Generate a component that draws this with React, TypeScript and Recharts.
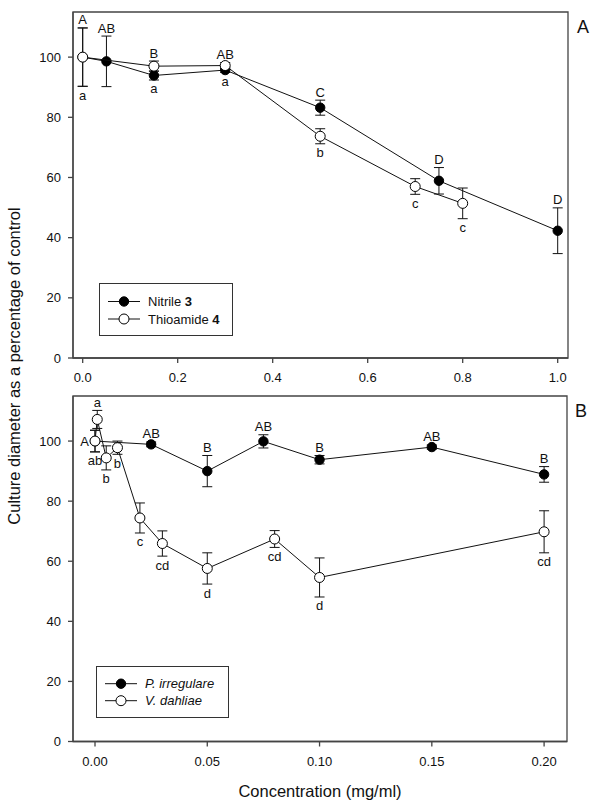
import React from 'react';
import { ComposedChart, Scatter, XAxis, YAxis, ErrorBar, ReferenceArea, Legend } from 'recharts';

const FONT = '"Liberation Sans", Arial, sans-serif';

// Panel A - concentration (mg/ml), % of control, SE, letters
const NITRILE_X = [0, 0.05, 0.15, 0.3, 0.5, 0.75, 1.0];
const NITRILE_Y = [100, 98.6, 93.9, 95.7, 83.2, 58.9, 42.3];
const NITRILE_ERR = [9.7, 8.4, 1.5, 0.8, 2.5, 4.4, 7.6];
const NITRILE_LETTERS = ['A', 'AB', 'B', 'AB', 'C', 'D', 'D'];

const THIO_X = [0, 0.15, 0.3, 0.5, 0.7, 0.8];
const THIO_Y = [100, 97.0, 97.2, 73.7, 57.0, 51.4];
const THIO_ERR = [9.7, 1.7, 1.0, 2.5, 2.6, 5.1];
const THIO_LETTERS = ['a', 'a', 'a', 'b', 'c', 'c'];

// Panel B
const PIRR_X = [0, 0.025, 0.05, 0.075, 0.1, 0.15, 0.2];
const PIRR_Y = [100, 98.9, 90.0, 99.9, 93.8, 98.0, 88.9];
const PIRR_ERR = [3.6, 0.8, 5.2, 2.2, 1.4, 0.7, 2.6];
const PIRR_LETTERS = ['A', 'AB', 'B', 'AB', 'B', 'AB', 'B'];

const VDAH_X = [0, 0.001, 0.005, 0.01, 0.02, 0.03, 0.05, 0.08, 0.1, 0.2];
const VDAH_Y = [100, 107.2, 94.4, 97.8, 74.4, 65.9, 57.6, 67.4, 54.6, 69.8];
const VDAH_ERR = [3.6, 3.0, 4.0, 2.2, 5.0, 4.2, 5.2, 2.8, 6.5, 7.0];
const VDAH_LETTERS = ['ab', 'a', 'b', 'b', 'c', 'cd', 'd', 'cd', 'd', 'cd'];

const Y_TICKS = [0, 20, 40, 60, 80, 100];
const X_TICKS_A = [0, 0.2, 0.4, 0.6, 0.8, 1.0];
const X_TICKS_B = [0, 0.05, 0.1, 0.15, 0.2];

// where each letter goes relative to its point
const NITRILE_SIDE = ['above', 'above', 'above', 'above', 'above', 'above', 'above'];
const THIO_SIDE = ['below', 'below', 'below', 'below', 'below', 'below'];
const PIRR_SIDE = ['left', 'above', 'above', 'above', 'above', 'above', 'above'];
const VDAH_SIDE = ['below', 'above', 'below', 'below', 'below', 'below', 'below', 'below', 'below', 'below'];

type Pt = { x: number; y: number; err: number };
type Lab = { x: number; y: number; text: string; side: string };

const toPoints = (xs: number[], ys: number[], errs: number[]): Pt[] =>
  xs.map((x, i) => ({ x, y: ys[i], err: errs[i] }));

// letters sit past the outermost error bar at that concentration
function toLabels(own: Pt[], texts: string[], sides: string[], all: Pt[]): Lab[] {
  return own.map((p, i) => {
    const side = sides[i];
    const same = all.filter((q) => q.x === p.x);
    let y = p.y;
    if (side === 'above') y = Math.max(...same.map((q) => q.y + q.err));
    if (side === 'below') y = Math.min(...same.map((q) => q.y - q.err));
    return { x: p.x, y, text: texts[i], side };
  });
}

const nitrile = toPoints(NITRILE_X, NITRILE_Y, NITRILE_ERR);
const thio = toPoints(THIO_X, THIO_Y, THIO_ERR);
const pirr = toPoints(PIRR_X, PIRR_Y, PIRR_ERR);
const vdah = toPoints(VDAH_X, VDAH_Y, VDAH_ERR);

const labelsA = [
  ...toLabels(nitrile, NITRILE_LETTERS, NITRILE_SIDE, [...nitrile, ...thio]),
  ...toLabels(thio, THIO_LETTERS, THIO_SIDE, [...nitrile, ...thio]),
];
const labelsB = [
  ...toLabels(pirr, PIRR_LETTERS, PIRR_SIDE, [...pirr, ...vdah]),
  ...toLabels(vdah, VDAH_LETTERS, VDAH_SIDE, [...pirr, ...vdah]),
];

const FilledDot = (p: any) => <circle cx={p.cx} cy={p.cy} r={4.7} fill="#000" stroke="#000" strokeWidth={1} />;
const OpenDot = (p: any) => <circle cx={p.cx} cy={p.cy} r={5} fill="#fff" stroke="#000" strokeWidth={1} />;

const Letter = (p: any) => {
  const { cx, cy, payload } = p;
  const common = { fontSize: 13, fill: '#111', fontFamily: FONT };
  if (payload.side === 'above')
    return <text x={cx} y={cy - 3.5} textAnchor="middle" {...common}>{payload.text}</text>;
  if (payload.side === 'below')
    return <text x={cx} y={cy + 13.5} textAnchor="middle" {...common}>{payload.text}</text>;
  return <text x={cx - 6} y={cy + 4.5} textAnchor="end" {...common}>{payload.text}</text>;
};

function LegendBox({ w, h, rows }: { w: number; h: number; rows: { filled: boolean; label: React.ReactNode; cy: number }[] }) {
  return (
    <svg width={w} height={h} style={{ display: 'block' }}>
      <rect x={0.5} y={0.5} width={w - 1} height={h - 1} fill="#fff" stroke="#333" />
      {rows.map((r, i) => (
        <g key={i}>
          <line x1={9} x2={41} y1={r.cy} y2={r.cy} stroke="#111" />
          <circle cx={25} cy={r.cy} r={r.filled ? 4.7 : 5} fill={r.filled ? '#000' : '#fff'} stroke="#000" />
          <text x={49} y={r.cy + 4.5} fontSize={13} fill="#111" fontFamily={FONT}>{r.label}</text>
        </g>
      ))}
    </svg>
  );
}

const legendA = () => (
  <LegendBox
    w={134}
    h={53}
    rows={[
      { filled: true, cy: 18.5, label: <>Nitrile <tspan fontWeight="bold">3</tspan></> },
      { filled: false, cy: 36, label: <>Thioamide <tspan fontWeight="bold">4</tspan></> },
    ]}
  />
);

const legendB = () => (
  <LegendBox
    w={133}
    h={52}
    rows={[
      { filled: true, cy: 17.7, label: <tspan fontStyle="italic">P. irregulare</tspan> },
      { filled: false, cy: 34.7, label: <tspan fontStyle="italic">V. dahliae</tspan> },
    ]}
  />
);

const axisLine = { stroke: '#444', strokeWidth: 1.3 };
const tickStyle = { fill: '#111', fontSize: 13, fontFamily: FONT };

export default function App() {
  return (
    <div style={{ position: 'absolute', left: 0, top: 0, width: 602, height: 808, background: '#fff', fontFamily: FONT }}>
      <div style={{ position: 'absolute', left: 0, top: 0 }}>
        <ComposedChart width={602} height={385} margin={{ top: 12, right: 34, left: 28, bottom: 2 }}>
          <XAxis
            type="number"
            dataKey="x"
            domain={[-0.0204, 1.0217]}
            ticks={X_TICKS_A}
            tickFormatter={(v: number) => v.toFixed(1)}
            height={25}
            tickSize={5}
            tickMargin={10}
            axisLine={axisLine}
            tickLine={axisLine}
            tick={tickStyle}
          />
          <YAxis
            type="number"
            dataKey="y"
            domain={[0, 115]}
            ticks={Y_TICKS}
            width={45}
            tickSize={5}
            tickMargin={7}
            axisLine={axisLine}
            tickLine={axisLine}
            tick={tickStyle}
          />
          <ReferenceArea x1={-0.0204} x2={1.0217} y1={0} y2={115} fill="none" stroke="#444" strokeWidth={1.3} />
          <Scatter name="Nitrile 3" data={nitrile} line={{ stroke: '#111', strokeWidth: 1 }} shape={FilledDot} isAnimationActive={false}>
            <ErrorBar dataKey="err" direction="y" width={5} stroke="#111" strokeWidth={1} />
          </Scatter>
          <Scatter name="Thioamide 4" data={thio} line={{ stroke: '#111', strokeWidth: 1 }} shape={OpenDot} isAnimationActive={false}>
            <ErrorBar dataKey="err" direction="y" width={5} stroke="#111" strokeWidth={1} />
          </Scatter>
          <Scatter data={labelsA} shape={Letter} isAnimationActive={false} legendType="none" />
          <Legend
            content={legendA}
            layout="horizontal"
            verticalAlign="middle"
            align="center"
            wrapperStyle={{ left: 99, top: 283, width: 134, height: 53 }}
          />
        </ComposedChart>
      </div>
      <div style={{ position: 'absolute', left: 0, top: 385 }}>
        <ComposedChart width={602} height={423} margin={{ top: 11, right: 35, left: 28, bottom: 11.5 }}>
          <XAxis
            type="number"
            dataKey="x"
            domain={[-0.0098, 0.2102]}
            ticks={X_TICKS_B}
            tickFormatter={(v: number) => v.toFixed(2)}
            height={55}
            tickSize={5}
            tickMargin={10}
            axisLine={axisLine}
            tickLine={axisLine}
            tick={tickStyle}
            label={{ value: 'Concentration (mg/ml)', position: 'insideBottom', offset: 0, fontSize: 16.5, fill: '#111', fontFamily: FONT }}
          />
          <YAxis
            type="number"
            dataKey="y"
            domain={[0, 115]}
            ticks={Y_TICKS}
            width={45}
            tickSize={5}
            tickMargin={7}
            axisLine={axisLine}
            tickLine={axisLine}
            tick={tickStyle}
          />
          <ReferenceArea x1={-0.0098} x2={0.2102} y1={0} y2={115} fill="none" stroke="#444" strokeWidth={1.3} />
          <Scatter name="P. irregulare" data={pirr} line={{ stroke: '#111', strokeWidth: 1 }} shape={FilledDot} isAnimationActive={false}>
            <ErrorBar dataKey="err" direction="y" width={5} stroke="#111" strokeWidth={1} />
          </Scatter>
          <Scatter name="V. dahliae" data={vdah} line={{ stroke: '#111', strokeWidth: 1 }} shape={OpenDot} isAnimationActive={false}>
            <ErrorBar dataKey="err" direction="y" width={5} stroke="#111" strokeWidth={1} />
          </Scatter>
          <Scatter data={labelsB} shape={Letter} isAnimationActive={false} legendType="none" />
          <Legend
            content={legendB}
            layout="horizontal"
            verticalAlign="middle"
            align="center"
            wrapperStyle={{ left: 96, top: 281, width: 133, height: 52 }}
          />
        </ComposedChart>
      </div>
      <svg width={602} height={808} style={{ position: 'absolute', left: 0, top: 0, pointerEvents: 'none' }}>
        <text transform="translate(20,366) rotate(-90)" textAnchor="middle" fontSize={16.5} fill="#111" fontFamily={FONT}>
          Culture diameter as a percentage of control
        </text>
        <text x={577} y={33} fontSize={18} fill="#111" fontFamily={FONT}>A</text>
        <text x={575} y={416.5} fontSize={18} fill="#111" fontFamily={FONT}>B</text>
      </svg>
    </div>
  );
}
